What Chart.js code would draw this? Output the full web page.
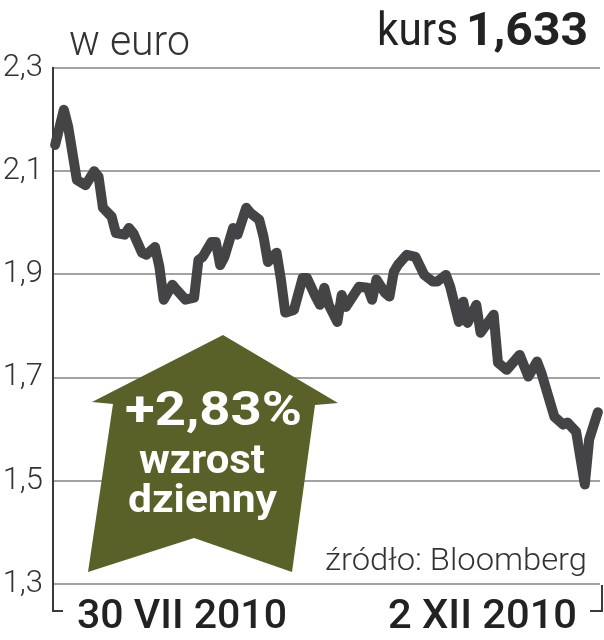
<!DOCTYPE html>
<html>
<head>
<meta charset="utf-8">
<script src="https://cdn.jsdelivr.net/npm/chart.js@4.4.1/dist/chart.umd.min.js"></script>
<style>
  html, body { margin: 0; padding: 0; background: #ffffff; }
  #wrap { width: 604px; height: 640px; position: relative; }
  canvas { display: block; }
</style>
</head>
<body>
<div id="wrap"><canvas id="c" width="604" height="640"></canvas></div>
<script>
// ---- data ----
// day offset from 30 VII 2010
const days = [0, 2, 3, 5, 7, 9, 10, 11, 13, 14, 16, 17, 18, 20, 21, 23, 24, 25, 27, 28,
  30, 32, 33, 34, 36, 37, 38, 39, 41, 42, 44, 45, 47, 48, 49, 51, 52, 53, 55, 57,
  58, 60, 61, 62, 63, 65, 66, 67, 70, 72, 73, 74, 76, 77, 78, 79, 81, 83, 85, 87,
  88, 90, 91, 93, 94, 95, 97, 98, 99, 101, 102, 104, 107, 109, 111, 112, 115, 117, 118, 120,
  122, 123, 125];
const rates = [2.151, 2.219, 2.186, 2.083, 2.073, 2.100, 2.089, 2.029, 2.012, 1.980,
  1.977, 1.990, 1.980, 1.942, 1.938, 1.953, 1.915, 1.851, 1.880, 1.870,
  1.851, 1.855, 1.928, 1.934, 1.963, 1.963, 1.918, 1.934, 1.990, 1.977,
  2.029, 2.019, 2.006, 1.973, 1.924, 1.942, 1.890, 1.826, 1.831, 1.893,
  1.893, 1.857, 1.841, 1.874, 1.841, 1.808, 1.860, 1.837, 1.876, 1.874,
  1.851, 1.890, 1.864, 1.857, 1.905, 1.919, 1.938, 1.934, 1.899, 1.886,
  1.886, 1.899, 1.876, 1.808, 1.847, 1.806, 1.841, 1.787, 1.799, 1.822,
  1.729, 1.715, 1.744, 1.702, 1.731, 1.709, 1.624, 1.609, 1.613, 1.595,
  1.493, 1.580, 1.633];
const yTicks = [1.3, 1.5, 1.7, 1.9, 2.1, 2.3];
const xLabels = ["30 VII 2010", "2 XII 2010"];
const unitLabel = "w euro";
const kursLabel = "kurs";
const kursValue = "1,633";
const badgeLines = ["+2,83%", "wzrost", "dzienny"];
const sourceLabel = "źródło: Bloomberg";

const points = days.map((d, i) => ({ x: d, y: rates[i] }));

function fitText(ctx, text, x, y, font, color, targetW, align) {
  ctx.save();
  ctx.font = font;
  ctx.fillStyle = color;
  ctx.textBaseline = 'alphabetic';
  const w = ctx.measureText(text).width;
  const s = targetW / w;
  let left = x;
  if (align === 'center') left = x - targetW / 2;
  else if (align === 'right') left = x - targetW;
  ctx.translate(left, y);
  ctx.scale(s, 1);
  ctx.textAlign = 'left';
  ctx.fillText(text, 0, 0);
  ctx.restore();
}

const decor = {
  id: 'decor',
  afterDatasetsDraw(chart) {
    const ctx = chart.ctx;
    const a = chart.chartArea;
    // bracket under the axis
    ctx.save();
    ctx.strokeStyle = '#3a3a3a';
    ctx.lineWidth = 2;
    ctx.beginPath();
    ctx.moveTo(a.left, a.bottom);
    ctx.lineTo(a.left, a.bottom + 27);
    ctx.lineTo(a.left + 10, a.bottom + 27);
    ctx.moveTo(a.right + 2, a.bottom + 1);
    ctx.lineTo(a.right + 2, a.bottom + 27);
    ctx.lineTo(a.right - 10, a.bottom + 27);
    ctx.stroke();
    ctx.restore();

    // badge arrow
    ctx.save();
    ctx.fillStyle = '#5a6128';
    ctx.beginPath();
    const poly = [[223, 335], [338, 403], [315, 405], [292, 572], [194, 538], [88, 572], [113, 404], [92, 402]];
    poly.forEach((p, i) => i ? ctx.lineTo(p[0], p[1]) : ctx.moveTo(p[0], p[1]));
    ctx.closePath();
    ctx.fill();
    ctx.restore();

    fitText(ctx, badgeLines[0], 125, 425, 'bold 49px Roboto', '#ffffff', 177, 'left');
    fitText(ctx, badgeLines[1], 139, 473, 'bold 41px Roboto', '#ffffff', 126, 'left');
    fitText(ctx, badgeLines[2], 128, 512, 'bold 39px Roboto', '#ffffff', 149, 'left');

    fitText(ctx, unitLabel, 69, 55, '300 42px Roboto', '#333333', 121, 'left');
    fitText(ctx, kursLabel, 377, 45, '400 46px Roboto', '#222222', 81, 'left');
    fitText(ctx, kursValue, 466, 45, 'bold 46px Roboto', '#222222', 122, 'left');
    fitText(ctx, sourceLabel, 325, 570, '300 32px Roboto', '#333333', 262, 'left');
    fitText(ctx, xLabels[0], 77, 628, '500 40px Roboto', '#222222', 210, 'left');
    fitText(ctx, xLabels[1], 388, 628, '500 40px Roboto', '#222222', 189, 'left');
  }
};

new Chart(document.getElementById('c'), {
  type: 'line',
  data: {
    datasets: [{
      data: points,
      borderColor: '#444446',
      borderWidth: 10,
      borderJoinStyle: 'round',
      borderCapStyle: 'round',
      pointRadius: 0,
      tension: 0,
      fill: false,
      clip: false
    }]
  },
  options: {
    responsive: false,
    animation: false,
    events: [],
    layout: { padding: { top: 68, right: 4, bottom: 56, left: 0 } },
    plugins: { legend: { display: false }, tooltip: { enabled: false } },
    scales: {
      x: {
        type: 'linear', min: -0.5, max: 125.5, display: false
      },
      y: {
        min: 1.3, max: 2.3,
        afterFit: s => { s.width = 53; },
        afterBuildTicks: s => { s.ticks = yTicks.map(v => ({ value: v })); },
        border: { display: true, color: '#3a3a3a', width: 2 },
        grid: { color: '#a3a3a3', lineWidth: 2, drawTicks: false },
        ticks: {
          padding: 10,
          color: '#333333',
          font: { family: 'Roboto', weight: 300, size: 31 },
          callback: v => v.toFixed(1).replace('.', ',')
        }
      }
    }
  },
  plugins: [decor]
});
</script>
</body>
</html>
